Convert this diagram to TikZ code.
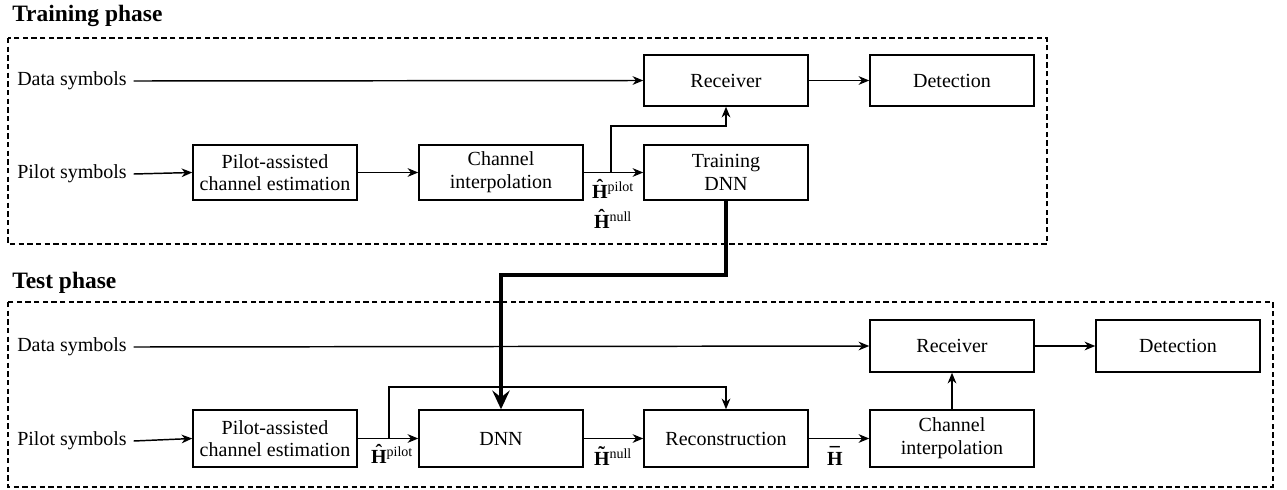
\documentclass[tikz,border=0pt]{standalone}
\usepackage{fontspec}
\setmainfont{Liberation Serif}
\usetikzlibrary{arrows.meta}
\newcommand\accH[2]{\leavevmode\vbox{\offinterlineskip\halign{\hfil##\hfil\cr\textbf{\fontsize{15}{15}\selectfont#1}\cr\noalign{\kern#2}\textbf{H}\cr}}}
\begin{document}
\begin{tikzpicture}[x=0.75pt,y=-0.75pt,
 box/.style={draw,line width=1.1pt,minimum width=123pt,align=center,font=\fontsize{15}{17}\selectfont,inner sep=0pt},
 lbl/.style={font=\fontsize{15}{17}\selectfont,anchor=west,inner sep=0pt},
 arr/.style={line width=1.1pt,-{Stealth[length=8pt,width=6.5pt,inset=2.5pt]}},
 thick arr/.style={line width=3.6pt,-{Stealth[length=14pt,width=13pt,inset=5pt]}},
 phase/.style={draw,line width=1.1pt,dash pattern=on 4pt off 2.5pt},
 ttl/.style={font=\fontsize{17.6}{20}\selectfont\bfseries,anchor=west,inner sep=0pt},
 hl/.style={font=\fontsize{15}{17}\selectfont,inner sep=0pt}
]
\useasboundingbox (0,0) rectangle (1287,489);
% phase frames
\draw[phase] (8,38) rectangle (1047,244);
\draw[phase] (8,302) rectangle (1273,487);
\node[ttl] (t1) at (12,16) {Training phase};
\node[ttl] (t2) at (12,283) {Test phase};
% training
\node[lbl] (ds1) at (17,81) {Data symbols};
\node[lbl] (ps1) at (17,174) {Pilot symbols};
\node[box,minimum height=38.25pt] (rx1) at (726,80.5) {Receiver};
\node[box,minimum height=38.25pt] (de1) at (952,80.5) {Detection};
\node[box,minimum height=41.25pt] (pe1) at (275,172.5) {Pilot-assisted\\channel estimation};
\node[box,minimum height=41.25pt] (ci1) at (501,172.5) {Channel\\interpolation};
\node[box,minimum height=41.25pt] (td1) at (726,172.5) {Training\\DNN};
\node[hl] (hp1) at (613,189) {\accH{ˆ}{-6pt}\textsuperscript{pilot}};
\node[hl] (hn1) at (613,219) {\accH{ˆ}{-6pt}\textsuperscript{null}};
\draw[arr] ([xshift=5pt]ds1.east) -- (rx1.west);
\draw[arr] (rx1.east) -- (de1.west);
\draw[arr] ([xshift=5pt]ps1.east) -- (pe1.west);
\draw[arr] (pe1.east) -- (ci1.west);
\draw[arr] (ci1.east) -- (td1.west);
\coordinate (b1) at (611,172.5);
\coordinate (k1) at (611,126);
\draw[arr] (b1) -- (k1) -| (rx1.south);
% test
\node[lbl] (ds2) at (17,347) {Data symbols};
\node[lbl] (ps2) at (17,441) {Pilot symbols};
\node[box,minimum height=39pt] (rx2) at (952,346) {Receiver};
\node[box,minimum height=39pt] (de2) at (1178,346) {Detection};
\node[box,minimum height=42.75pt] (pe2) at (275,438.5) {Pilot-assisted\\channel estimation};
\node[box,minimum height=42.75pt] (dn2) at (501,438.5) {DNN};
\node[box,minimum height=42.75pt] (rc2) at (726,438.5) {Reconstruction};
\node[box,minimum height=42.75pt] (ci2) at (952,438.5) {Channel\\interpolation};
\node[hl] (hp2) at (392,454) {\accH{ˆ}{-6pt}\textsuperscript{pilot}};
\node[hl] (hn2) at (613,456) {\accH{˜}{-6pt}\textsuperscript{null}};
\node[hl] (hb2) at (835,456) {\accH{¯}{-7pt}};
\draw[arr] ([xshift=5pt]ds2.east) -- (rx2.west);
\draw[arr] (rx2.east) -- (de2.west);
\draw[arr] ([xshift=5pt]ps2.east) -- (pe2.west);
\draw[arr] (pe2.east) -- (dn2.west);
\draw[arr] (dn2.east) -- (rc2.west);
\draw[arr] (rc2.east) -- (ci2.west);
\draw[arr] (ci2.north) -- (rx2.south);
\coordinate (b2) at (389,438.5);
\coordinate (k2) at (389,387);
\draw[arr] (b2) -- (k2) -| (rc2.north);
% DNN transfer
\coordinate (k3) at (726,275);
\draw[thick arr] (td1.south) -- (k3) -| (dn2.north);
\end{tikzpicture}
\end{document}
